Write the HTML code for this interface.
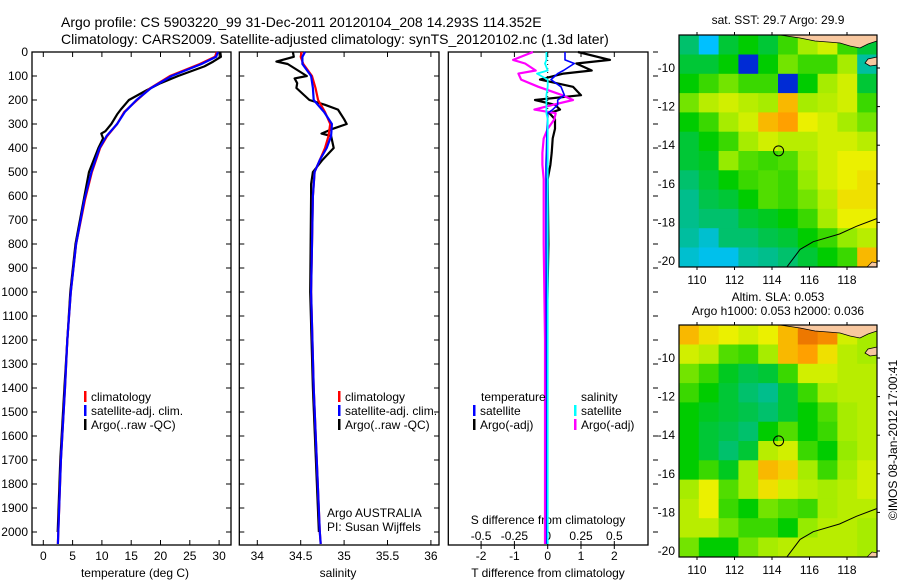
<!DOCTYPE html>
<html><head><meta charset="utf-8"><style>
html,body{margin:0;padding:0;background:#fff;}
svg{display:block;font-family:"Liberation Sans",sans-serif;}
</style></head><body>
<svg id="fig" width="900" height="580" viewBox="0 0 900 580" xmlns="http://www.w3.org/2000/svg">
<text x="61" y="27" font-size="14">Argo profile: CS 5903220_99 31-Dec-2011 20120104_208 14.293S 114.352E</text>
<text x="61" y="44" font-size="14">Climatology: CARS2009. Satellite-adjusted climatology: synTS_20120102.nc (1.3d later)</text>
<g id="p1"></g>
<g id="p2"></g>
<g id="p3"></g>
<g id="m1"></g>
<g id="m2"></g>
<text transform="translate(897,440) rotate(-90)" font-size="12" text-anchor="middle">©IMOS 08-Jan-2012 17:00:41</text>
</svg>
<script>
// ---- profile data ----
const tDepth = [0,20,50,100,150,200,250,300,350,400,500,617,800,1000,1200,1400,1700,2000,2050];
const tClim  = [29.6,29.3,26.7,21.6,18.3,16.0,13.8,12.6,10.9,9.7,8.3,7.1,5.6,4.7,4.1,3.7,3.0,2.56,2.5];
const tSat   = [29.8,29.5,27.0,21.9,18.4,15.9,13.9,12.6,10.8,9.6,8.2,7.0,5.6,4.7,4.1,3.7,3.0,2.56,2.5];
const argoTDepth = [0,20,40,60,100,130,160,200,240,260,300,330,340,360,400,450,500,617,800,1000,1400,1700,2000];
const argoT      = [30.2,30.3,29.0,27.5,23.0,20.0,17.6,14.6,13.2,12.6,11.6,10.6,9.9,10.2,9.4,8.6,7.8,6.9,5.5,4.6,3.6,2.9,2.45];
const sDepth = [0,20,50,100,150,200,250,300,350,400,450,500,600,1000,1400,2000,2050];
const sClim  = [34.51,34.50,34.53,34.63,34.67,34.70,34.78,34.84,34.82,34.78,34.72,34.66,34.64,34.62,34.65,34.72,34.73];
const sSat   = [34.55,34.52,34.52,34.62,34.64,34.65,34.77,34.86,34.85,34.80,34.72,34.66,34.64,34.62,34.65,34.72,34.73];
const argoSDepth = [0,20,40,50,100,110,130,150,200,220,240,280,300,320,340,350,400,450,500,550,600,1000,1400,2000];
const argoS      = [34.41,34.42,34.22,34.35,34.57,34.43,34.46,34.45,34.60,34.78,34.93,35.00,35.03,34.87,34.74,34.85,34.88,34.75,34.64,34.62,34.62,34.61,34.64,34.71];
const dDepth = [0,33,48,77,90,115,145,180,200,220,240,255,280,320,360,420,470,530,800,1200,1500,1800,2050];
const dTArgo = [0.91,1.87,0.86,1.32,0.47,-0.23,0.76,1.0,-0.38,0.22,0.37,0.05,0.22,0.22,0.15,0.12,0.08,0.0,0.02,-0.03,-0.06,-0.05,-0.04];
const dTSat  = [0.52,0.52,0.8,0.47,0.3,0.1,0.4,0.5,0.3,0.3,0.15,0.0,0.0,-0.02,-0.03,-0.04,-0.05,-0.05,-0.05,-0.04,-0.03,-0.03,-0.03];
const dSArgo = [-0.11,-0.26,-0.17,-0.09,-0.22,-0.2,-0.07,0.11,0.19,0.04,-0.1,0.06,0.05,0.0,-0.03,-0.04,-0.04,-0.03,-0.03,-0.02,-0.02,-0.02,-0.02];
const dSSat  = [-0.01,-0.01,-0.02,0.0,-0.08,-0.0,0.0,-0.01,-0.01,-0.01,-0.01,-0.01,0.0,0.0,0.0,0.0,0.0,0.0,0.0,0.0,0.0,0.0,0.0];
const depthTicks = [0,100,200,300,400,500,600,700,800,900,1000,1100,1200,1300,1400,1500,1600,1700,1800,1900,2000];
const tTicks = [0,5,10,15,20,25,30];
const sTicks = [34,34.5,35,35.5,36];
const dTTicks = [-2,-1,0,1,2];
const dSTicks = [-0.5,-0.25,0,0.25,0.5];
const lonTicks = [110,112,114,116,118];
const latTicks = [-10,-12,-14,-16,-18,-20];
// ---- map data (colour scale 0..1) ----
const sstGrid = [
[.45,.3,.5,.55,.5,.6,.7,.75,.6,.5],
[.5,.5,.55,.1,.55,.65,.6,.6,.7,.4],
[.55,.6,.65,.6,.6,.1,.55,.7,.75,.5],
[.65,.72,.75,.72,.7,.85,.7,.72,.75,.6],
[.55,.6,.7,.75,.85,.88,.78,.75,.7,.65],
[.5,.55,.6,.7,.75,.72,.72,.75,.75,.72],
[.5,.52,.68,.62,.6,.62,.7,.75,.78,.78],
[.45,.5,.55,.6,.62,.6,.68,.75,.78,.8],
[.42,.48,.5,.55,.62,.6,.65,.72,.8,.8],
[.42,.45,.45,.5,.52,.55,.6,.7,.78,.78],
[.4,.35,.45,.45,.48,.5,.55,.6,.68,.72],
[.35,.32,.32,.4,.42,.45,.5,.55,.6,.85]];
const slaGrid = [
[.85,.8,.78,.75,.78,.85,.92,.9,.75,.7],
[.75,.72,.62,.6,.7,.85,.88,.8,.72,.7],
[.65,.6,.52,.48,.5,.6,.75,.75,.72,.72],
[.6,.55,.5,.45,.42,.5,.6,.7,.72,.72],
[.55,.52,.5,.48,.45,.5,.55,.62,.7,.72],
[.55,.5,.48,.45,.55,.62,.55,.6,.7,.72],
[.55,.5,.45,.5,.72,.75,.6,.55,.68,.72],
[.55,.6,.52,.7,.85,.82,.7,.6,.7,.75],
[.7,.78,.62,.7,.8,.75,.72,.7,.72,.75],
[.72,.78,.6,.55,.65,.62,.6,.7,.72,.72],
[.72,.72,.65,.6,.6,.55,.68,.72,.72,.7],
[.65,.55,.55,.65,.7,.72,.72,.72,.72,.7]];
const argoLon = 114.352, argoLat = -14.293;
const shelfLon = [114.8,115.5,116.2,117.6,118.5,119.6];
const shelfLat = [-20.3,-19.4,-19.0,-18.6,-18.2,-17.8];

const NS="http://www.w3.org/2000/svg";
function mk(parent,tag,attrs,text){const e=document.createElementNS(NS,tag);for(const k in attrs)e.setAttribute(k,attrs[k]);if(text!==undefined)e.textContent=text;parent.appendChild(e);return e;}
const Y0=52, DY=0.24, TOP=52, BOT=545;
const yD=d=>Y0+d*DY;
function pathOf(xs,ds,fx){return xs.map((v,i)=>(i?'L':'M')+fx(v).toFixed(1)+','+yD(ds[i]).toFixed(1)).join(' ');}

function panel(g,L,R,opts){
  mk(g,'rect',{x:L,y:TOP,width:R-L,height:BOT-TOP,fill:'none',stroke:'#000','stroke-width':1.3});
  depthTicks.forEach(d=>{
    mk(g,'line',{x1:L,x2:L+5,y1:yD(d),y2:yD(d),stroke:'#000'});
    mk(g,'line',{x1:R,x2:R-5,y1:yD(d),y2:yD(d),stroke:'#000'});
    if(opts.ylabels){const t=mk(g,'text',{x:L-4,y:yD(d)+4,'font-size':12,'text-anchor':'end'},String(d));
      
      }
  });
}
function xTicks(g,ticks,fx,labelY,top){
  ticks.forEach(v=>{const x=fx(v);
    mk(g,'line',{x1:x,x2:x,y1:BOT,y2:BOT-5,stroke:'#000'});
    if(top)mk(g,'line',{x1:x,x2:x,y1:TOP,y2:TOP+5,stroke:'#000'});
    const t=mk(g,'text',{x:x,y:labelY,'font-size':12,'text-anchor':'middle'},String(v));
    
    
  });
}
function line(g,xs,ds,fx,col,w,name){const p=mk(g,'path',{d:pathOf(xs,ds,fx),fill:'none',stroke:col,'stroke-width':w,'stroke-linejoin':'round'});
  
  }
function legend(g,x,y,items){items.forEach((it,i)=>{
  mk(g,'rect',{x:x,y:y+i*14-6,width:2.5,height:11,fill:it[0]});
  const t=mk(g,'text',{x:x+7,y:y+i*14+4,'font-size':12},it[1]);
  
  });}

// Panel 1
const p1=document.getElementById('p1');
const fT=v=>43.3+v*5.86;
panel(p1,32,231,{ylabels:true});
xTicks(p1,tTicks,fT,560,true);
mk(p1,'text',{x:135,y:577,'font-size':12,'text-anchor':'middle',},'temperature (deg C)');
line(p1,argoT,argoTDepth,fT,'#000',2.2,'argo-temperature-line');
line(p1,tClim,tDepth,fT,'#f00',2.2,'climatology-temperature-line');
line(p1,tSat,tDepth,fT,'#00f',2.2,'satellite-temperature-line');
legend(p1,84,397,[['#f00','climatology'],['#00f','satellite-adj. clim.'],['#000','Argo(..raw -QC)']]);

// Panel 2
const p2=document.getElementById('p2');
const fS=v=>257.3+(v-34)*86.8;
panel(p2,239.3,439,{});
xTicks(p2,sTicks,fS,560,true);
mk(p2,'text',{x:338,y:577,'font-size':12,'text-anchor':'middle',},'salinity');
line(p2,argoS,argoSDepth,fS,'#000',2.2,'argo-salinity-line');
line(p2,sClim,sDepth,fS,'#f00',2.2,'climatology-salinity-line');
line(p2,sSat,sDepth,fS,'#00f',2.2,'satellite-salinity-line');
legend(p2,338,397,[['#f00','climatology'],['#00f','satellite-adj. clim.'],['#000','Argo(..raw -QC)']]);
mk(p2,'text',{x:327,y:517,'font-size':12,},'Argo AUSTRALIA');
mk(p2,'text',{x:327,y:531,'font-size':12,},'PI: Susan Wijffels');

// Panel 3
const p3=document.getElementById('p3');
const fD=v=>547.7+v*33.3;
const fDS=v=>547.7+v*4*33.3;
mk(p3,'rect',{x:448.3,y:TOP,width:199.7,height:BOT-TOP,fill:'none',stroke:'#000','stroke-width':1.3});
depthTicks.forEach(d=>mk(p3,'line',{x1:653,x2:658,y1:yD(d),y2:yD(d),stroke:'#000'}));
dTTicks.forEach(v=>{const x=fD(v);
  mk(p3,'line',{x1:x,x2:x,y1:TOP,y2:TOP+5,stroke:'#000'});
  mk(p3,'line',{x1:x,x2:x,y1:BOT,y2:BOT+4,stroke:'#000'});
  const t=mk(p3,'text',{x:x,y:560,'font-size':12,'text-anchor':'middle'},String(v));
  
  });
dSTicks.forEach(v=>{const x=fDS(v);
  mk(p3,'line',{x1:x,x2:x,y1:BOT,y2:BOT-4,stroke:'#000'});
  const t=mk(p3,'text',{x:x,y:540,'font-size':12,'text-anchor':'middle'},String(v));
  
  });
mk(p3,'line',{x1:fD(0),x2:fD(0),y1:TOP,y2:yD(600),stroke:'#000','stroke-dasharray':'1,3'});
mk(p3,'text',{x:548,y:524,'font-size':12,'text-anchor':'middle',},'S difference from climatology');
mk(p3,'text',{x:548,y:577,'font-size':12,'text-anchor':'middle',},'T difference from climatology');
line(p3,dTArgo,dDepth,fD,'#000',2.2,'argo-t-diff-line');
line(p3,dSArgo,dDepth,fDS,'#f0f',2.2,'argo-s-diff-line');
line(p3,dTSat,dDepth,fD,'#00f',1.6,'satellite-t-diff-line');
line(p3,dSSat,dDepth,fDS,'#0ff',1.8,'satellite-s-diff-line');
mk(p3,'text',{x:481,y:401,'font-size':12,},'temperature');
legend(p3,473,411,[['#00f','satellite'],['#000','Argo(-adj)']]);
mk(p3,'text',{x:581,y:401,'font-size':12,},'salinity');
legend(p3,574,411,[['#0ff','satellite'],['#f0f','Argo(-adj)']]);

// Maps
const stops=[[0,[0,0,128]],[.15,[0,64,255]],[.3,[0,192,255]],[.42,[0,190,140]],[.55,[0,204,0]],[.68,[150,235,0]],[.78,[235,240,0]],[.88,[255,160,0]],[1,[200,40,0]]];
function cmap(t){for(let i=1;i<stops.length;i++){if(t<=stops[i][0]){const a=stops[i-1],b=stops[i],f=(t-a[0])/(b[0]-a[0]);return 'rgb('+a[1].map((c,k)=>Math.round(c+(b[1][k]-c)*f)).join(',')+')';}}return 'rgb(200,40,0)';}
function drawMap(id,grid,top,title){
  const g=document.getElementById(id);
  const L=679,R=877,H=232,B=top+H;
  const fx=lon=>697+(lon-110)*18.75;
  const fy=lat=>top+33+(-10-lat)*19.3;
  const lon0=109.04,lon1=119.6,lat0=-8.3,lat1=-20.3;
  const nr=grid.length,nc=grid[0].length;
  grid.forEach((row,r)=>row.forEach((v,c)=>{
    const x0=fx(lon0+(lon1-lon0)*c/nc),x1=fx(lon0+(lon1-lon0)*(c+1)/nc);
    const y0=fy(lat0+(lat1-lat0)*r/nr),y1=fy(lat0+(lat1-lat0)*(r+1)/nr);
    const cell=mk(g,'rect',{x:x0.toFixed(1),y:y0.toFixed(1),width:(x1-x0+0.5).toFixed(1),height:(y1-y0+0.5).toFixed(1),fill:cmap(v)});
    
    
  }));
  // land
  mk(g,'path',{d:`M780,${top} L877,${top} L877,${top+6} L868,${top+9} L860,${top+13} L850,${top+11} L840,${top+8} L828,${top+7} L815,${top+6} L800,${top+3} Z`,fill:'#f8c8a0',stroke:'#000','stroke-width':0.8,});
  mk(g,'path',{d:`M877,${top+22} L868,${top+24} L865,${top+28} L870,${top+31} L877,${top+30} Z`,fill:'#f8c8a0',stroke:'#000','stroke-width':0.8,});
  mk(g,'path',{d:`M867,${B} L872,${B-5} L877,${B-4} L877,${B} Z`,fill:'#f8c8a0',stroke:'#000','stroke-width':0.6,});
  mk(g,'path',{d:shelfLon.map((lo,i)=>(i?'L':'M')+fx(lo).toFixed(1)+','+fy(shelfLat[i]).toFixed(1)).join(' '),fill:'none',stroke:'#000','stroke-width':1,});
  mk(g,'circle',{cx:fx(argoLon),cy:fy(argoLat),r:5,fill:'none',stroke:'#000','stroke-width':1,});
  mk(g,'rect',{x:L,y:top,width:R-L,height:H,fill:'none',stroke:'#000','stroke-width':1.2});
  lonTicks.forEach(lo=>{const x=fx(lo);
    mk(g,'line',{x1:x,x2:x,y1:top,y2:top-3,stroke:'#000'});
    mk(g,'line',{x1:x,x2:x,y1:B,y2:B+3,stroke:'#000'});
    const t=mk(g,'text',{x:x,y:B+17,'font-size':12,'text-anchor':'middle'},String(lo));
    
    });
  latTicks.forEach(la=>{const y=fy(la);
    mk(g,'line',{x1:R,x2:R+3,y1:y,y2:y,stroke:'#000'});
    const t=mk(g,'text',{x:675,y:y+4,'font-size':12,'text-anchor':'end'},String(la));
    
    });
  title.forEach((s,i)=>{const t=mk(g,'text',{x:778,y:top-24+i*14+(title.length==1?13:0),'font-size':12,'text-anchor':'middle'},s);
    
    });
}
drawMap('m1',sstGrid,35,['sat. SST: 29.7 Argo: 29.9']);
drawMap('m2',slaGrid,325,['Altim. SLA: 0.053','Argo h1000: 0.053 h2000: 0.036']);
</script>
</body></html>
